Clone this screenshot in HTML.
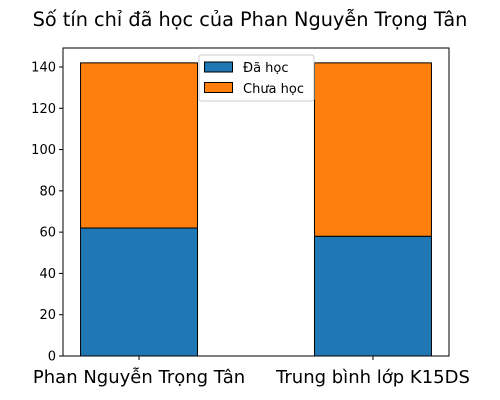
<!DOCTYPE html>
<html><head><meta charset="utf-8"><style>
body{margin:0;background:#fff;}
svg{display:block;font-family:"DejaVu Sans","Liberation Sans",sans-serif;}
</style></head><body>
<svg id="chart" width="500" height="400">
<text x="250" y="26" text-anchor="middle" font-size="19.3">Số tín chỉ đã học của Phan Nguyễn Trọng Tân</text>
<g id="bars"></g>
<g id="yticks"></g>
<g id="xticks"></g>
<rect x="63" y="48" width="386" height="308" fill="none" stroke="#000" stroke-width="1"/>
<g>
<rect x="199" y="55" width="115" height="46" rx="2" fill="#fff" fill-opacity="0.8" stroke="#ccc"/>
<rect x="204.5" y="62" width="28" height="10" fill="#1f77b4" stroke="#000"/>
<text x="243" y="72" font-size="13">Đã học</text>
<rect x="204.5" y="82.5" width="28" height="10" fill="#ff7f0e" stroke="#000"/>
<text x="243" y="93" font-size="13">Chưa học</text>
</g>
</svg>
<script>
const categories = ["Phan Nguyễn Trọng Tân", "Trung bình lớp K15DS"];
const studied = [62, 58];
const remaining = [80, 84];
const yTicks = [0, 20, 40, 60, 80, 100, 120, 140];

const NS = "http://www.w3.org/2000/svg";
const x0 = 63, x1 = 449, yTop = 48, yBot = 356;
const xMin = -0.325, xMax = 1.325;
const yMax = 149.2;
function xs(v){ return x0 + (v - xMin) / (xMax - xMin) * (x1 - x0); }
function ys(v){ return yBot - v / yMax * (yBot - yTop); }
function mk(tag, attrs, parent){
  const e = document.createElementNS(NS, tag);
  for (const k in attrs) e.setAttribute(k, attrs[k]);
  parent.appendChild(e);
  return e;
}
const bars = document.getElementById('bars');
const bw = 0.5;
categories.forEach((c, i) => {
  const l = xs(i - bw/2), w = xs(i + bw/2) - l;
  const b = mk('rect', {x:l, y:ys(studied[i]), width:w, height:ys(0)-ys(studied[i]), fill:'#1f77b4', stroke:'#000'}, bars);
  
  
  const top = studied[i] + remaining[i];
  const o = mk('rect', {x:l, y:ys(top), width:w, height:ys(studied[i])-ys(top), fill:'#ff7f0e', stroke:'#000'}, bars);
  
  
});
const yt = document.getElementById('yticks');
yTicks.forEach(v => {
  const y = ys(v);
  const t = mk('line', {x1:x0-4, x2:x0, y1:y, y2:y, stroke:'#000'}, yt);
  
  
  const tx = mk('text', {x:x0-7, y:y+4.5, 'text-anchor':'end', 'font-size':'13'}, yt);
  tx.textContent = v;
  
  
});
const xt = document.getElementById('xticks');
categories.forEach((c, i) => {
  const x = xs(i);
  const t = mk('line', {x1:x, x2:x, y1:yBot, y2:yBot+4, stroke:'#000'}, xt);
  
  
  const tx = mk('text', {x:x, y:yBot+27, 'text-anchor':'middle', 'font-size':'18'}, xt);
  tx.textContent = c;
  
  
});
</script>
</body></html>
